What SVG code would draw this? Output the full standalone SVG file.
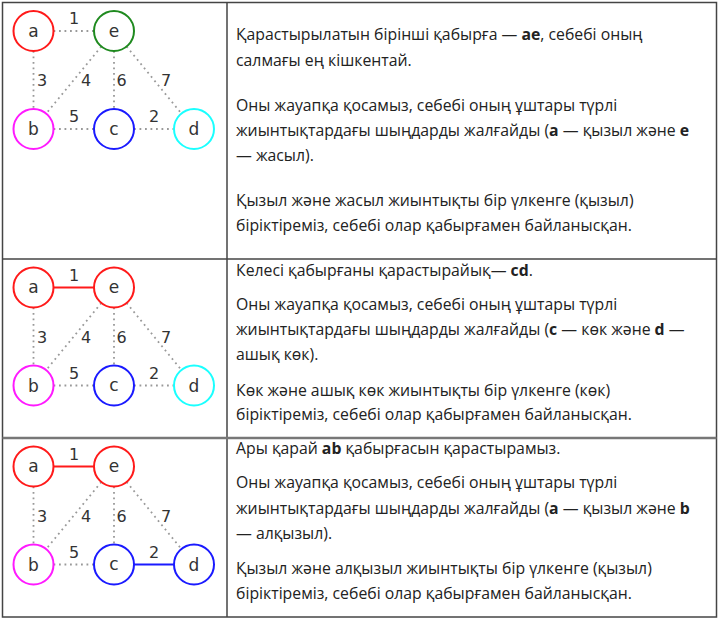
<svg xmlns="http://www.w3.org/2000/svg" width="720" height="618" viewBox="0 0 720 618">
  <style>
    .grid { stroke: #444; stroke-width: 1.5; fill: none; }
    .grid2 { stroke: #777; stroke-width: 2.5; fill: none; }
    .node circle { fill: #fff; stroke-width: 2; }
    .node text { font-family: "DejaVu Sans", sans-serif; font-size: 17px; fill: #333; text-anchor: middle; }
    .edge { stroke: #999; stroke-width: 1.8; stroke-dasharray: 1.8 3.7; fill: none; }
    .tree { stroke-width: 2.2; fill: none; }
    .wlabel { font-family: "DejaVu Sans", sans-serif; font-size: 16px; fill: #333; text-anchor: middle; }
    .desc { font-family: "Open Sans", "Noto Sans", sans-serif; font-size: 15.8px; fill: #222; }
    .desc tspan.b { font-weight: 700; }
  </style>

  <rect width="720" height="618" fill="#fff"/>

  <!-- table frame -->
  <g id="table">
    <rect class="grid" x="2.5" y="2.5" width="714" height="614.5"/>
    <line class="grid" x1="227" y1="2.5" x2="227" y2="617"/>
    <line class="grid" x1="2.5" y1="259" x2="716.5" y2="259"/>
    <line class="grid2" x1="2.5" y1="438" x2="716.5" y2="438"/>
  </g>

  <!-- step 1 graph -->
  <g id="graph1">
    <g id="connectors1">
      <line class="edge" x1="53.5" y1="31" x2="94" y2="31"/>
      <line class="edge" x1="33.5" y1="51" x2="33.5" y2="109"/>
      <line class="edge" x1="101.3" y1="46.5" x2="46.2" y2="113.5"/>
      <line class="edge" x1="114" y1="51" x2="114" y2="109"/>
      <line class="edge" x1="126.6" y1="46.5" x2="181.4" y2="113.5"/>
      <line class="edge" x1="53.5" y1="129" x2="94" y2="129"/>
      <line class="edge" x1="134" y1="129" x2="174" y2="129"/>
      <text class="wlabel" x="74" y="24">1</text>
      <text class="wlabel" x="42" y="86">3</text>
      <text class="wlabel" x="86" y="86">4</text>
      <text class="wlabel" x="121.5" y="86">6</text>
      <text class="wlabel" x="166" y="86">7</text>
      <text class="wlabel" x="74" y="122">5</text>
      <text class="wlabel" x="154" y="122">2</text>
    </g>
    <g id="g1-a" class="node"><circle cx="33.5" cy="31" r="20" stroke="#ff1a1a"/><text x="33.5" y="36.5">a</text></g>
    <g id="g1-e" class="node"><circle cx="114" cy="31" r="20" stroke="#1f8a1f"/><text x="114" y="36.5">e</text></g>
    <g id="g1-b" class="node"><circle cx="33.5" cy="129" r="20" stroke="#ff1aff"/><text x="33.5" y="135">b</text></g>
    <g id="g1-c" class="node"><circle cx="114" cy="129" r="20" stroke="#1a1aff"/><text x="114" y="134.5">c</text></g>
    <g id="g1-d" class="node"><circle cx="194" cy="129" r="20" stroke="#1affff"/><text x="194" y="135">d</text></g>
  </g>

  <!-- step 2 graph -->
  <g id="graph2" transform="translate(0,256.5)">
    <g id="connectors2">
      <line class="tree" stroke="#ff1a1a" x1="53.5" y1="31" x2="94" y2="31"/>
      <line class="edge" x1="33.5" y1="51" x2="33.5" y2="109"/>
      <line class="edge" x1="101.3" y1="46.5" x2="46.2" y2="113.5"/>
      <line class="edge" x1="114" y1="51" x2="114" y2="109"/>
      <line class="edge" x1="126.6" y1="46.5" x2="181.4" y2="113.5"/>
      <line class="edge" x1="53.5" y1="129" x2="94" y2="129"/>
      <line class="edge" x1="134" y1="129" x2="174" y2="129"/>
      <text class="wlabel" x="74" y="24">1</text>
      <text class="wlabel" x="42" y="86">3</text>
      <text class="wlabel" x="86" y="86">4</text>
      <text class="wlabel" x="121.5" y="86">6</text>
      <text class="wlabel" x="166" y="86">7</text>
      <text class="wlabel" x="74" y="122">5</text>
      <text class="wlabel" x="154" y="122">2</text>
    </g>
    <g id="g2-a" class="node"><circle cx="33.5" cy="31" r="20" stroke="#ff1a1a"/><text x="33.5" y="36.5">a</text></g>
    <g id="g2-e" class="node"><circle cx="114" cy="31" r="20" stroke="#ff1a1a"/><text x="114" y="36.5">e</text></g>
    <g id="g2-b" class="node"><circle cx="33.5" cy="129" r="20" stroke="#ff1aff"/><text x="33.5" y="135">b</text></g>
    <g id="g2-c" class="node"><circle cx="114" cy="129" r="20" stroke="#1a1aff"/><text x="114" y="134.5">c</text></g>
    <g id="g2-d" class="node"><circle cx="194" cy="129" r="20" stroke="#1affff"/><text x="194" y="135">d</text></g>
  </g>

  <!-- step 3 graph -->
  <g id="graph3" transform="translate(0,435.5)">
    <g id="connectors3">
      <line class="tree" stroke="#ff1a1a" x1="53.5" y1="31" x2="94" y2="31"/>
      <line class="edge" x1="33.5" y1="51" x2="33.5" y2="109"/>
      <line class="edge" x1="101.3" y1="46.5" x2="46.2" y2="113.5"/>
      <line class="edge" x1="114" y1="51" x2="114" y2="109"/>
      <line class="edge" x1="126.6" y1="46.5" x2="181.4" y2="113.5"/>
      <line class="edge" x1="53.5" y1="129" x2="94" y2="129"/>
      <line class="tree" stroke="#1a1aff" x1="134" y1="129" x2="174" y2="129"/>
      <text class="wlabel" x="74" y="24">1</text>
      <text class="wlabel" x="42" y="86">3</text>
      <text class="wlabel" x="86" y="86">4</text>
      <text class="wlabel" x="121.5" y="86">6</text>
      <text class="wlabel" x="166" y="86">7</text>
      <text class="wlabel" x="74" y="122">5</text>
      <text class="wlabel" x="154" y="122">2</text>
    </g>
    <g id="g3-a" class="node"><circle cx="33.5" cy="31" r="20" stroke="#ff1a1a"/><text x="33.5" y="36.5">a</text></g>
    <g id="g3-e" class="node"><circle cx="114" cy="31" r="20" stroke="#ff1a1a"/><text x="114" y="36.5">e</text></g>
    <g id="g3-b" class="node"><circle cx="33.5" cy="129" r="20" stroke="#ff1aff"/><text x="33.5" y="135">b</text></g>
    <g id="g3-c" class="node"><circle cx="114" cy="129" r="20" stroke="#1a1aff"/><text x="114" y="134.5">c</text></g>
    <g id="g3-d" class="node"><circle cx="194" cy="129" r="20" stroke="#1a1aff"/><text x="194" y="135">d</text></g>
  </g>

  <!-- descriptions -->
  <g id="text1" class="desc">
    <text x="236" y="40">Қарастырылатын бірінші қабырға — <tspan class="b">ae</tspan>, себебі оның</text>
    <text x="236" y="65.5">салмағы ең кішкентай.</text>
    <text x="236" y="110.5">Оны жауапқа қосамыз, себебі оның ұштары түрлі</text>
    <text x="236" y="135.5">жиынтықтардағы шыңдарды жалғайды (<tspan class="b">a</tspan> — қызыл және <tspan class="b">e</tspan></text>
    <text x="236" y="161">— жасыл).</text>
    <text x="236" y="206">Қызыл және жасыл жиынтықты бір үлкенге (қызыл)</text>
    <text x="236" y="230.5">біріктіреміз, себебі олар қабырғамен байланысқан.</text>
  </g>
  <g id="text2" class="desc">
    <text x="236" y="276">Келесі қабырғаны қарастырайық— <tspan class="b">cd</tspan>.</text>
    <text x="236" y="309.5">Оны жауапқа қосамыз, себебі оның ұштары түрлі</text>
    <text x="236" y="335">жиынтықтардағы шыңдарды жалғайды (<tspan class="b">c</tspan> — көк және <tspan class="b">d</tspan> —</text>
    <text x="236" y="359.5">ашық көк).</text>
    <text x="236" y="396">Көк және ашық көк жиынтықты бір үлкенге (көк)</text>
    <text x="236" y="420">біріктіреміз, себебі олар қабырғамен байланысқан.</text>
  </g>
  <g id="text3" class="desc">
    <text x="236" y="454">Ары қарай <tspan class="b">ab</tspan> қабырғасын қарастырамыз.</text>
    <text x="236" y="487.5">Оны жауапқа қосамыз, себебі оның ұштары түрлі</text>
    <text x="236" y="514">жиынтықтардағы шыңдарды жалғайды (<tspan class="b">a</tspan> — қызыл және <tspan class="b">b</tspan></text>
    <text x="236" y="538.5">— алқызыл).</text>
    <text x="236" y="574">Қызыл және алқызыл жиынтықты бір үлкенге (қызыл)</text>
    <text x="236" y="598.5">біріктіреміз, себебі олар қабырғамен байланысқан.</text>
  </g>
</svg>
